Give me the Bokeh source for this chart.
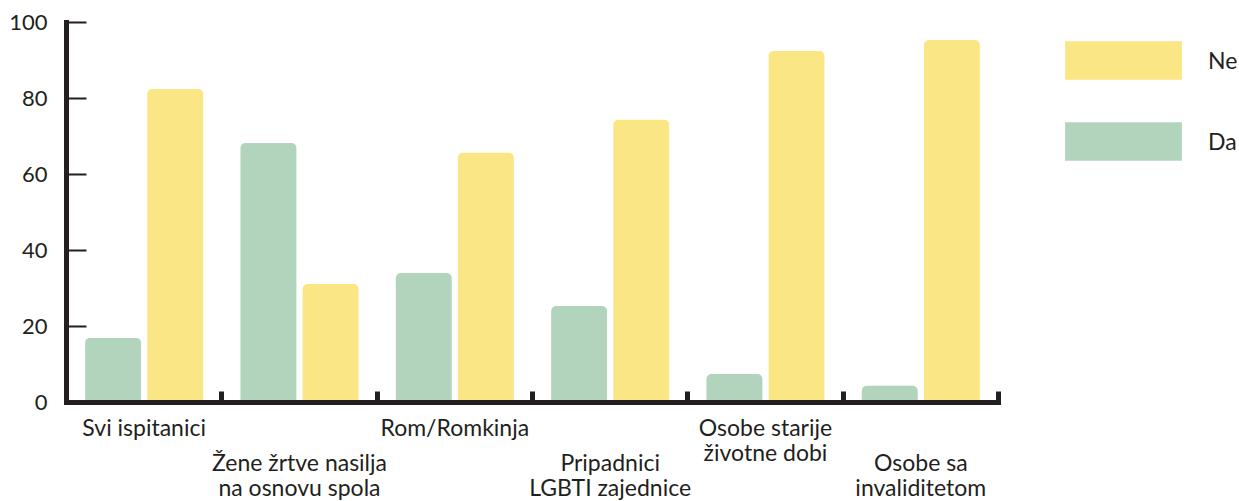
from bokeh.plotting import figure
from bokeh.models import (ColumnDataSource, Range1d, LinearAxis, FixedTicker,
                          Legend, LegendItem)
from bokeh.transform import dodge
from bokeh.embed import file_html
from bokeh.resources import INLINE

# ---- data ----
categories = ["Svi ispitanici",
              "Žene žrtve nasilja\nna osnovu spola",
              "Rom/Romkinja",
              "Pripadnici\nLGBTI zajednice",
              "Osobe starije\nživotne dobi",
              "Osobe sa\ninvaliditetom"]
da = [17.0, 68.3, 34.1, 25.4, 7.5, 4.4]
ne = [82.5, 31.2, 65.7, 74.4, 92.5, 95.4]
y_ticks = [0, 20, 40, 60, 80, 100]
series_names = ["Ne", "Da"]

# ---- style ----
FONT = "Lato"
TXT = "#231f20"
GREEN = "#b2d3bc"
YELLOW = "#fbe685"
LEFT, TOP = 66, 22
CAT_W = 155.33            # px per category
FRAME_W, FRAME_H = 1239 - LEFT, 380

n = len(categories)
x_end = FRAME_W / CAT_W   # extra room on the right holds the legend

p = figure(frame_width=FRAME_W, frame_height=FRAME_H,
           output_backend="svg", toolbar_location=None,
           x_range=Range1d(0, x_end), y_range=Range1d(0, 100),
           min_border_left=LEFT, min_border_right=0,
           min_border_top=TOP, min_border_bottom=0,
           x_axis_location=None, y_axis_location=None)
p.outline_line_color = None
p.xgrid.visible = False
p.ygrid.visible = False

yaxis = LinearAxis(ticker=FixedTicker(ticks=y_ticks),
                   axis_line_width=5, axis_line_color=TXT, axis_line_cap="square",
                   major_tick_in=20, major_tick_out=0,
                   major_tick_line_width=2, major_tick_line_color=TXT,
                   minor_tick_line_color=None,
                   major_label_text_font=FONT, major_label_text_font_size="22px",
                   major_label_text_color=TXT, major_label_standoff=19)
p.add_layout(yaxis, "left")

bounds = list(range(n + 1))
xaxis = LinearAxis(ticker=FixedTicker(ticks=bounds), bounds=(0, n),
                   axis_line_width=5, axis_line_color=TXT, axis_line_cap="square",
                   major_tick_in=11, major_tick_out=0,
                   major_tick_line_width=5, major_tick_line_color=TXT,
                   minor_tick_line_color=None,
                   major_label_overrides={b: "" for b in bounds},
                   major_label_standoff=0)
p.add_layout(xaxis, "below")

centres = [i + 0.5 for i in range(n)]


def label_axis(idx, standoff):
    ticks = [centres[i] for i in idx]
    return LinearAxis(ticker=FixedTicker(ticks=ticks),
                      axis_line_color=None, major_tick_line_color=None,
                      minor_tick_line_color=None,
                      major_tick_in=0, major_tick_out=0,
                      major_label_overrides={centres[i]: categories[i] for i in idx},
                      major_label_text_font=FONT, major_label_text_font_size="23px",
                      major_label_text_color=TXT,
                      major_label_text_line_height=0.92,
                      major_label_standoff=standoff)


p.add_layout(label_axis([0, 2, 4], 10), "below")
p.add_layout(label_axis([1, 3, 5], -22), "below")

src = ColumnDataSource(dict(xc=centres, da=da, ne=ne))
r_da = p.vbar(x=dodge("xc", -0.2, range=p.x_range), top="da", bottom=0, width=0.36,
              source=src, fill_color=GREEN, line_color=None, border_radius=(5, 5, 0, 0))
r_ne = p.vbar(x=dodge("xc", 0.2, range=p.x_range), top="ne", bottom=0, width=0.36,
              source=src, fill_color=YELLOW, line_color=None, border_radius=(5, 5, 0, 0))

legend = Legend(items=[LegendItem(label=series_names[0], renderers=[r_ne]),
                       LegendItem(label=series_names[1], renderers=[r_da])],
                location=(984, 237), glyph_width=146, glyph_height=48,
                label_height=48, spacing=33, label_standoff=12,
                padding=0, margin=0, border_line_color=None,
                background_fill_alpha=0,
                label_text_font=FONT, label_text_font_size="23px",
                label_text_color=TXT)
p.add_layout(legend, "center")

open("out.html", "w").write(file_html(p, INLINE))
